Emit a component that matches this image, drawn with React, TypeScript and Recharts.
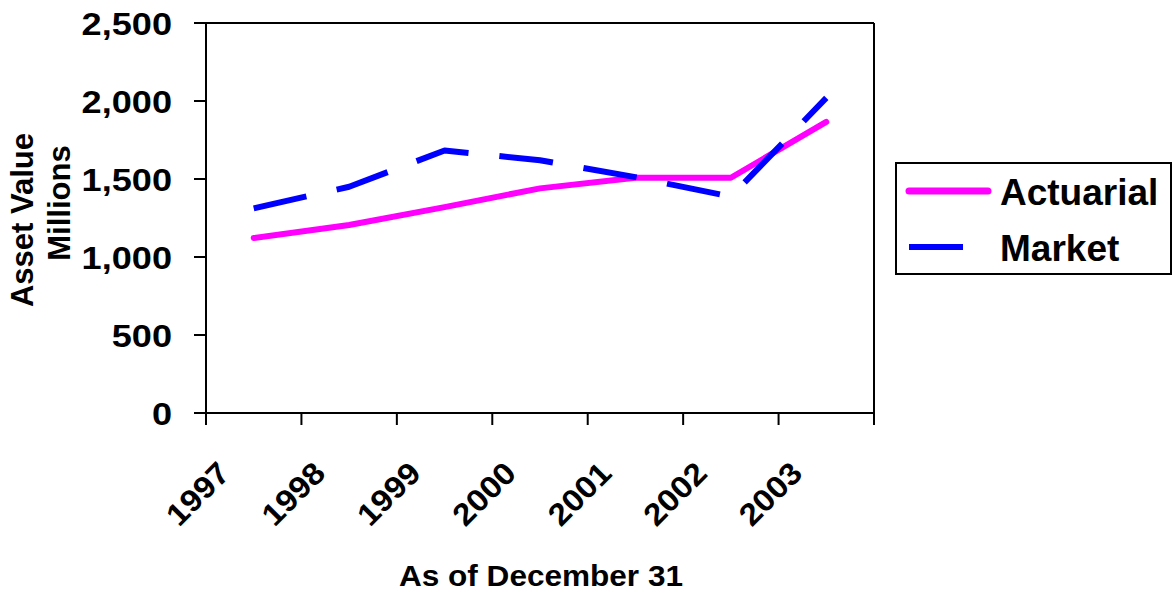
import React from 'react';
import { LineChart, Line, XAxis, YAxis } from 'recharts';

const YEARS = ['1997', '1998', '1999', '2000', '2001', '2002', '2003'];
const ACTUARIAL = [1122, 1205, 1320, 1440, 1508, 1508, 1866];
const MARKET = [1312, 1450, 1683, 1620, 1512, 1387, 2020];
const Y_TICKS = [0, 500, 1000, 1500, 2000, 2500];

const data = YEARS.map((year, i) => ({ year, actuarial: ACTUARIAL[i], market: MARKET[i] }));

const FONT = 'Arial, "Liberation Sans", sans-serif';
const W = 1172;
const H = 592;
const PLOT_LEFT = 206;
const PLOT_RIGHT = 874;
const PLOT_TOP = 23;
const PLOT_BOTTOM = 413;
const BAND = (PLOT_RIGHT - PLOT_LEFT) / YEARS.length;

const SERIES = [
  { key: 'actuarial', name: 'Actuarial', color: '#FF00FF', dash: undefined, cap: 'round' as const },
  { key: 'market', name: 'Market', color: '#0000FF', dash: '54 31', cap: 'butt' as const },
];

// category labels sit rotated below, tick marks go on the band edges
const YearTick = (props: any) => {
  const { x, y, payload, index } = props;
  const last = index === YEARS.length - 1;
  const tx = x - 22;
  const ty = y + 62;
  return (
    <g>
      <line x1={x - BAND / 2} x2={x - BAND / 2} y1={y} y2={y + 12} stroke="#000" strokeWidth={2} />
      {last && <line x1={x + BAND / 2} x2={x + BAND / 2} y1={y - 1} y2={y + 12} stroke="#000" strokeWidth={2} />}
      <g transform={`translate(${tx} ${ty}) rotate(-45) scale(1.08 1)`}>
        <text x={0} y={0} textAnchor="end" fontFamily={FONT} fontWeight="bold" fontSize={31} fill="#000">
          {payload.value}
        </text>
      </g>
    </g>
  );
};

const ValueTick = (props: any) => {
  const { x, y, payload } = props;
  return (
    <g transform={`translate(${x} ${y}) scale(1.13 1)`}>
      <text x={0} y={0} dy="0.36em" textAnchor="end" fontFamily={FONT} fontWeight="bold" fontSize={32} fill="#000">
        {Number(payload.value).toLocaleString('en-US')}
      </text>
    </g>
  );
};

const LegendBox = () => (
  <svg width={277} height={113} style={{ position: 'absolute', left: 895, top: 162 }}>
    <rect x={1} y={1} width={275} height={111} fill="#fff" stroke="#000" strokeWidth={2} />
    {SERIES.map((s, i) => {
      const cy = 29 + i * 56;
      return (
        <g key={s.key}>
          {s.dash ? (
            <line x1={14} x2={68} y1={cy} y2={cy} stroke={s.color} strokeWidth={6} />
          ) : (
            <line x1={14} x2={93} y1={cy} y2={cy} stroke={s.color} strokeWidth={7} strokeLinecap="round" />
          )}
          <text x={105} y={cy + 14} fontFamily={FONT} fontWeight="bold" fontSize={37} fill="#000">
            {s.name}
          </text>
        </g>
      );
    })}
  </svg>
);

export default function App() {
  return (
    <div style={{ position: 'absolute', left: 0, top: 0, width: W, height: H, background: '#fff' }}>
      <LineChart
        width={W}
        height={H}
        data={data}
        margin={{ top: PLOT_TOP - 1, right: W - PLOT_RIGHT - 1, bottom: 0, left: 0 }}
      >
        <XAxis
          dataKey="year"
          height={H - PLOT_BOTTOM}
          padding={{ left: BAND / 2, right: BAND / 2 }}
          axisLine={{ stroke: '#000', strokeWidth: 2 }}
          tickLine={false}
          tickSize={0}
          tickMargin={0}
          interval={0}
          tick={<YearTick />}
        />
        <XAxis
          xAxisId="top"
          dataKey="year"
          orientation="top"
          height={1}
          axisLine={{ stroke: '#000', strokeWidth: 2 }}
          tick={false}
          tickLine={false}
        />
        <YAxis
          width={PLOT_LEFT}
          domain={[0, 2500]}
          ticks={Y_TICKS}
          interval={0}
          tickSize={12}
          tickMargin={22}
          axisLine={{ stroke: '#000', strokeWidth: 2 }}
          tickLine={{ stroke: '#000', strokeWidth: 2 }}
          tick={<ValueTick />}
        />
        <YAxis
          yAxisId="right"
          orientation="right"
          width={1}
          domain={[0, 2500]}
          axisLine={{ stroke: '#000', strokeWidth: 2 }}
          tick={false}
          tickLine={false}
        />
        {SERIES.map((s) => (
          <Line
            key={s.key}
            type="linear"
            dataKey={s.key}
            name={s.name}
            stroke={s.color}
            strokeWidth={6}
            strokeDasharray={s.dash}
            strokeLinecap={s.cap}
            strokeLinejoin="round"
            dot={false}
            activeDot={false}
            isAnimationActive={false}
          />
        ))}
      </LineChart>
      <LegendBox />
      <svg width={W} height={H} style={{ position: 'absolute', left: 0, top: 0, pointerEvents: 'none' }}>
        <text
          x={33}
          y={220}
          transform="rotate(-90 33 220)"
          textAnchor="middle"
          fontFamily={FONT}
          fontWeight="bold"
          fontSize={31}
          fill="#000"
        >
          Asset Value
        </text>
        <text
          x={70}
          y={203}
          transform="rotate(-90 70 203)"
          textAnchor="middle"
          fontFamily={FONT}
          fontWeight="bold"
          fontSize={31}
          fill="#000"
        >
          Millions
        </text>
        <text
          x={541}
          y={586}
          textAnchor="middle"
          textLength={284}
          lengthAdjust="spacingAndGlyphs"
          fontFamily={FONT}
          fontWeight="bold"
          fontSize={30}
          fill="#000"
        >
          As of December 31
        </text>
      </svg>
    </div>
  );
}
